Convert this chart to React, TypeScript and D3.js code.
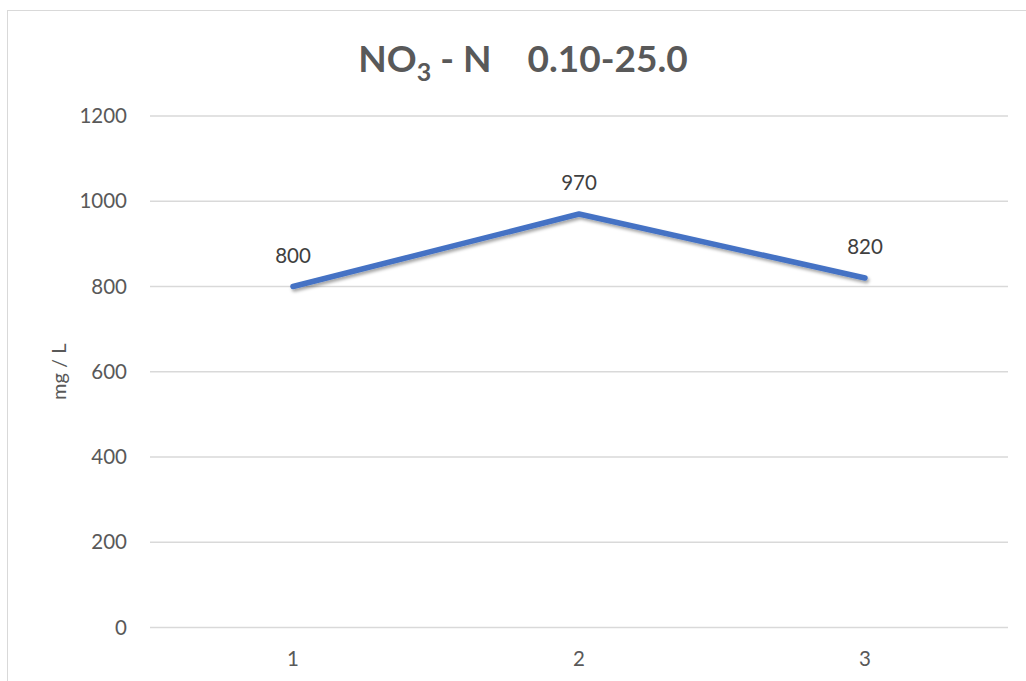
import React from "react";
import * as d3 from "d3";

const categories = ["1", "2", "3"];
const values = [800, 970, 820];
const yTicks = [0, 200, 400, 600, 800, 1000, 1200];

const W = 1026;
const H = 681;
const FONT = "Lato, 'Open Sans', sans-serif";
const TEXT = "#595959";
const LABEL_SIZE = 20.5;

export default function App() {
  const margin = { left: 150, right: 18, top: 116, bottom: 53 };
  const x = d3
    .scaleBand<string>()
    .domain(categories)
    .range([margin.left, W - margin.right])
    .paddingInner(0)
    .paddingOuter(0);
  const y = d3.scaleLinear().domain([0, 1200]).range([627.5, 116]);

  const pts: [number, number][] = values.map((v, i) => [
    (x(categories[i]) as number) + x.bandwidth() / 2,
    y(v),
  ]);
  const line = d3.line()(pts) as string;

  return (
    <svg
      width={W}
      height={H}
      style={{ position: "absolute", left: 0, top: 0, background: "#fff" }}
    >
      <defs>
        <filter id="shadow" x="-10%" y="-50%" width="120%" height="200%">
          <feDropShadow dx="1.5" dy="2.5" stdDeviation="1.8" floodColor="#000" floodOpacity="0.35" />
        </filter>
      </defs>
      {/* chart frame */}
      <rect x={7.5} y={10.5} width={W + 10} height={H + 10} fill="#fff" stroke="#d9d9d9" strokeWidth={1} />

      {/* title */}
      <text
        x={523}
        y={72}
        textAnchor="middle"
        fontFamily={FONT}
        fontWeight={700}
        fontSize={37}
        fill={TEXT}
      >
        NO
        <tspan fontSize={25} dy={9}>3</tspan>
        <tspan dy={-9} xmlSpace="preserve">{" - N\u00a0\u00a0\u00a0\u00a00.10-25.0"}</tspan>
      </text>

      {/* gridlines and y tick labels */}
      {yTicks.map((t) => (
        <g key={t}>
          <line
            x1={margin.left}
            x2={W - margin.right}
            y1={y(t)}
            y2={y(t)}
            stroke="#d9d9d9"
            strokeWidth={1.3}
          />
          <text
            x={127}
            y={y(t)}
            dy="0.35em"
            textAnchor="end"
            fontFamily={FONT}
            fontSize={LABEL_SIZE}
            fill={TEXT}
          >
            {t}
          </text>
        </g>
      ))}

      {/* x category labels */}
      {categories.map((c) => (
        <text
          key={c}
          x={(x(c) as number) + x.bandwidth() / 2}
          y={659}
          dy="0.35em"
          textAnchor="middle"
          fontFamily={FONT}
          fontSize={LABEL_SIZE}
          fill={TEXT}
        >
          {c}
        </text>
      ))}

      {/* y axis title */}
      <text
        transform={`translate(59, ${(116 + 627.5) / 2}) rotate(-90)`}
        textAnchor="middle"
        dy="0.35em"
        fontFamily={FONT}
        fontSize={20}
        fill={TEXT}
      >
        mg / L
      </text>

      {/* series line */}
      <path
        d={line}
        fill="none"
        stroke="#4472C4"
        strokeWidth={5.5}
        strokeLinecap="round"
        strokeLinejoin="round"
        filter="url(#shadow)"
      />

      {/* data labels */}
      {values.map((v, i) => (
        <text
          key={i}
          x={pts[i][0]}
          y={pts[i][1] - 31}
          dy="0.35em"
          textAnchor="middle"
          fontFamily={FONT}
          fontSize={LABEL_SIZE}
          fill="#404040"
        >
          {v}
        </text>
      ))}
    </svg>
  );
}
